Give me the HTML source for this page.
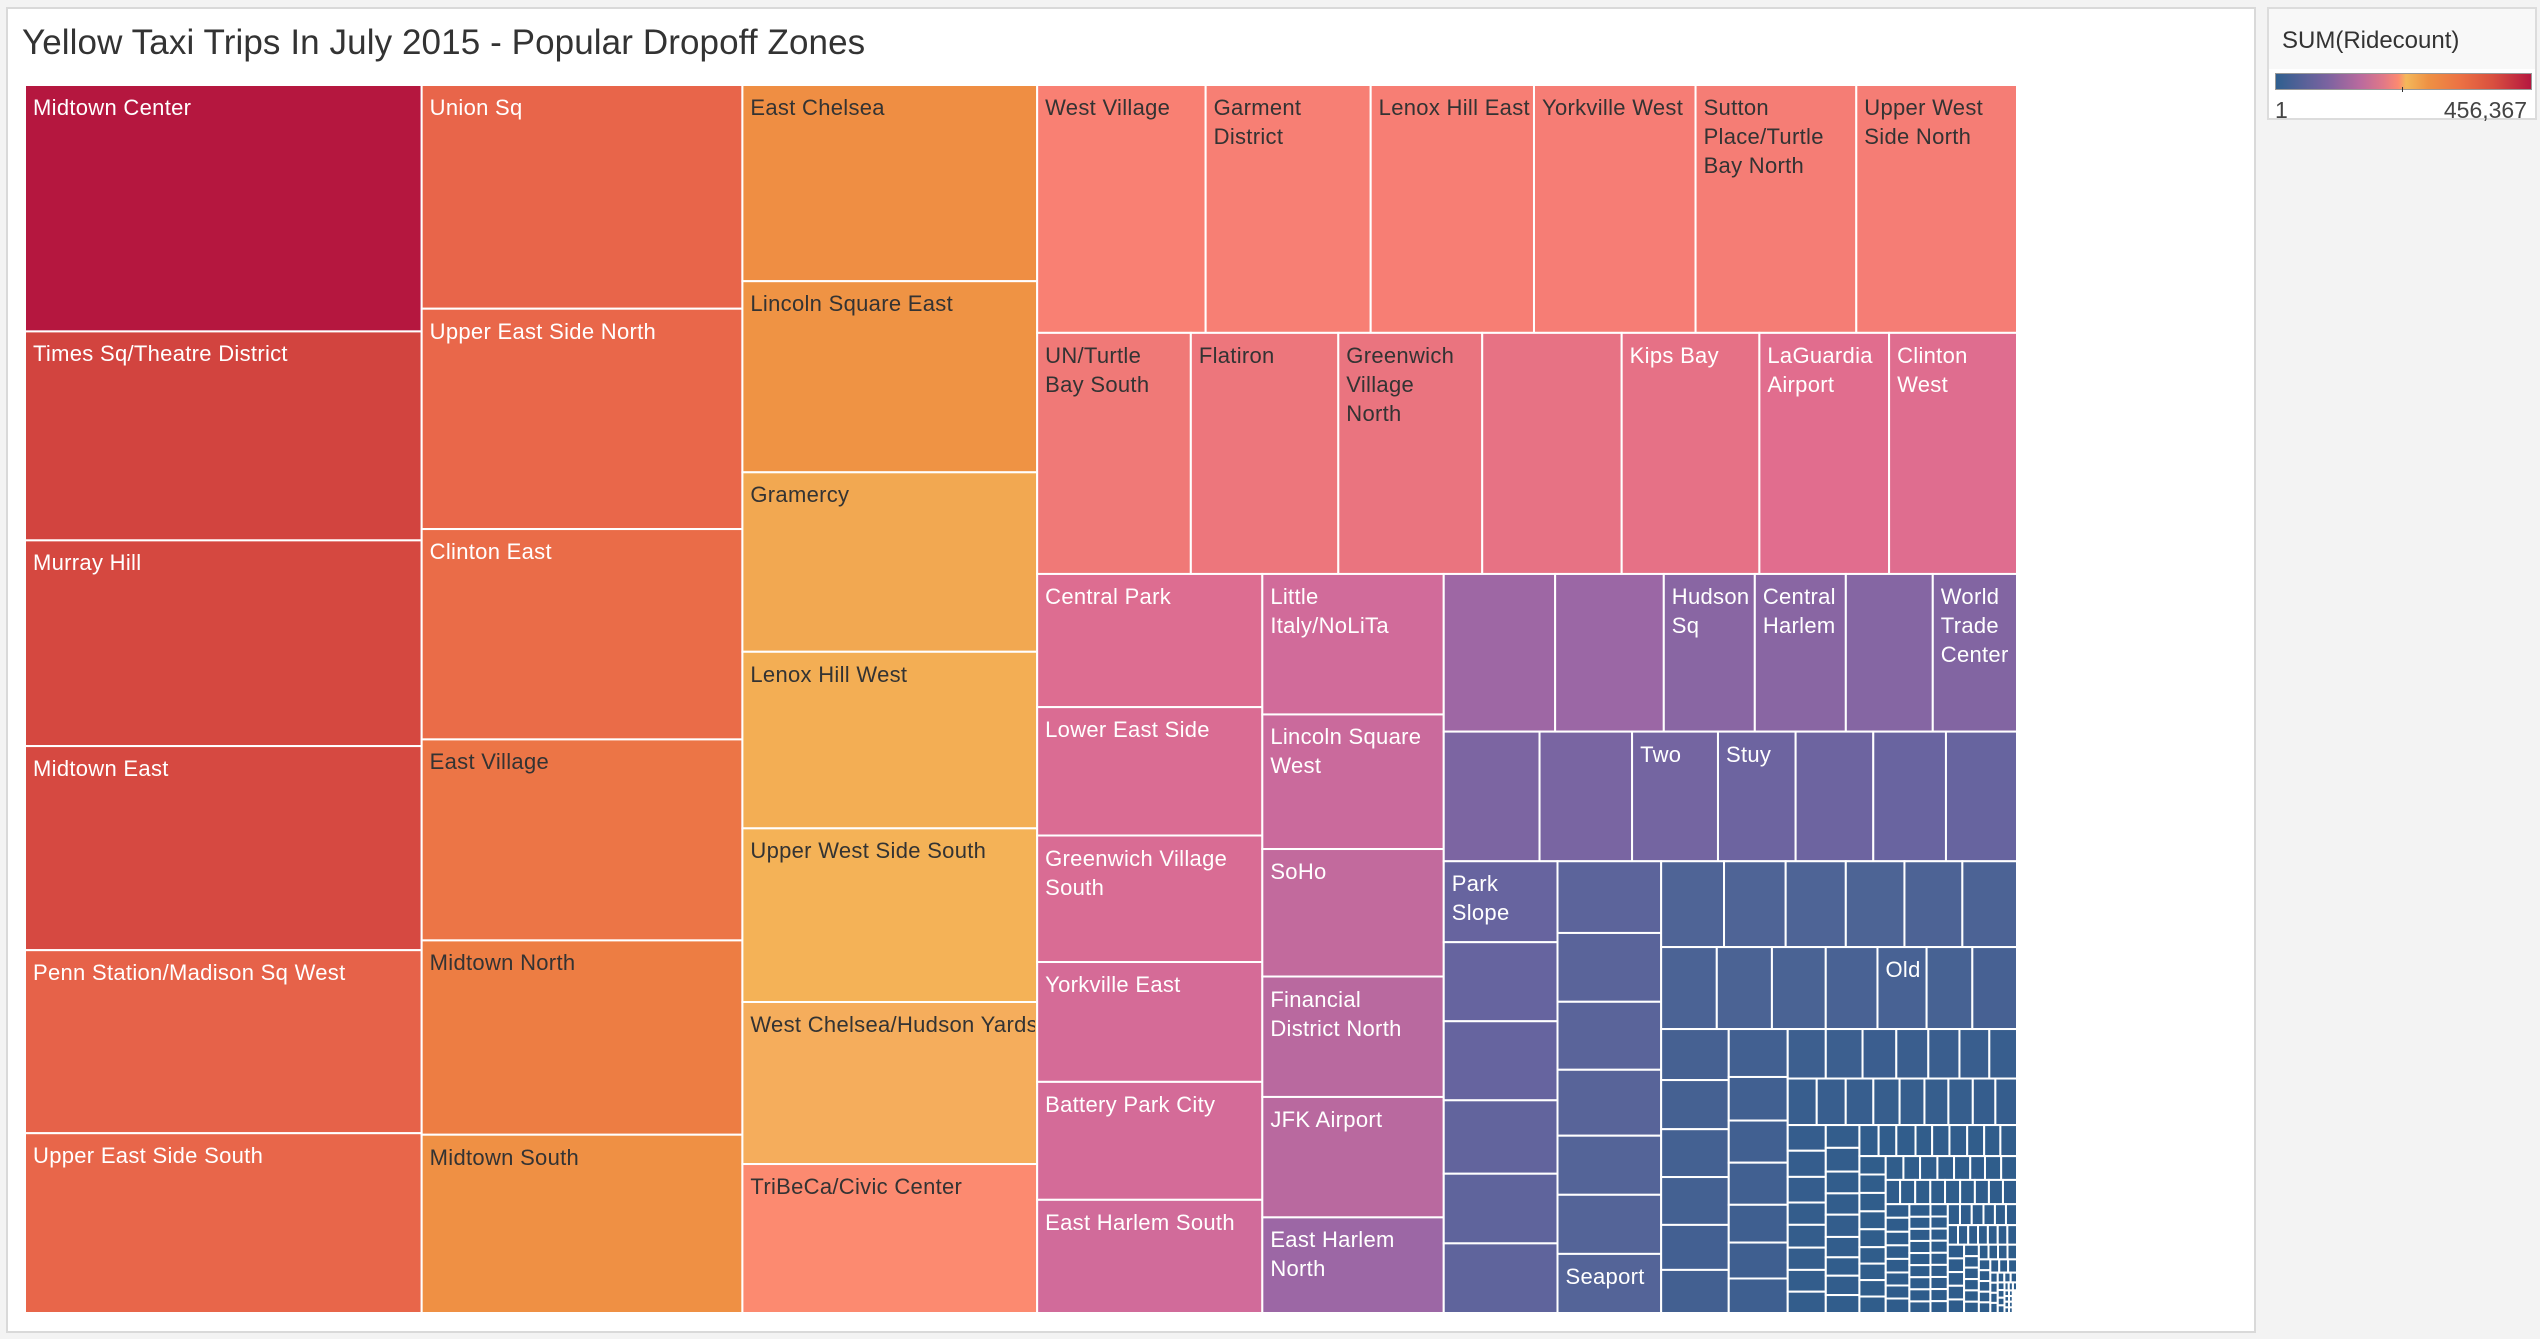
<!DOCTYPE html>
<html><head><meta charset="utf-8">
<style>
html,body{margin:0;padding:0;width:2540px;height:1339px;background:#f3f3f3;overflow:hidden;font-family:"Liberation Sans",sans-serif}
#panel{position:absolute;left:6px;top:7px;width:2246px;height:1322px;background:#fff;border:2px solid #d9d9d9}
#title{position:absolute;left:22px;top:23px;font-size:35px;color:#333;white-space:nowrap;letter-spacing:0.1px}
#chart{position:absolute;left:0;top:0}
.lbl{position:absolute;font-size:22px;letter-spacing:0.3px;line-height:29px;overflow:hidden;white-space:pre}
#legend{position:absolute;left:2267px;top:7px;width:270px;height:113px;background:#fff;border:2px solid #dcdcdc;box-sizing:border-box}
#legend-head{position:absolute;left:0;top:0;width:100%;height:60px;background:#f8f8f8}
#legend-title{position:absolute;left:13px;top:18px;font-size:24px;color:#333}
#legend-bar{position:absolute;left:6px;top:64px;width:255px;height:15px;border:1px solid #999;background:linear-gradient(to right,#2f5f8f 0%,#7a63a0 20%,#b96a9e 33%,#e07888 42%,#fc8a70 48%,#f4b85a 51%,#ee9044 60%,#ec7244 72%,#d9503f 85%,#b5173f 100%)}
#legend-tick{position:absolute;left:133px;top:78px;width:1px;height:5px;background:#333}
.legv{position:absolute;top:88px;font-size:23px;color:#444}
</style></head><body>
<div id="panel"></div>
<div id="title">Yellow Taxi Trips In July 2015 - Popular Dropoff Zones</div>
<svg id="chart" width="2540" height="1339"></svg>
<div id="labels"></div>
<div id="legend">
  <div id="legend-head"></div>
  <div id="legend-title">SUM(Ridecount)</div>
  <div id="legend-bar"></div>
  <div id="legend-tick"></div>
  <div class="legv" style="left:6px">1</div>
  <div class="legv" style="right:8px">456,367</div>
</div>
<script>
// ride counts (thousands) per strip, in layout order
const col1Names = ["Midtown Center","Times Sq/Theatre District","Murray Hill","Midtown East","Penn Station/Madison Sq West","Upper East Side South"];
const col1Vals = [456.367,387,381,378,339,333];
const col2Names = ["Union Sq","Upper East Side North","Clinton East","East Village","Midtown North","Midtown South"];
const col2Vals = [335,330,315,301,291,267];
const col3Names = ["East Chelsea","Lincoln Square East","Gramercy","Lenox Hill West","Upper West Side South","West Chelsea/Hudson Yards","TriBeCa/Civic Center"];
const col3Vals = [270,263,247,243,239,223,205];
const rowANames = ["West Village","Garment\nDistrict","Lenox Hill East","Yorkville West","Sutton\nPlace/Turtle\nBay North","Upper West\nSide North"];
const rowAVals = [195,191,189,187,186,186];
const rowBNames = ["UN/Turtle\nBay South","Flatiron","Greenwich\nVillage\nNorth","","Kips Bay","LaGuardia\nAirport","Clinton\nWest"];
const rowBVals = [173,166,162,157,155,146,144];
const colC1Names = ["Central Park","Lower East Side","Greenwich Village\nSouth","Yorkville East","Battery Park City","East Harlem South"];
const colC1Vals = [140,135,133,126,124,119];
const colC2Names = ["Little\nItaly/NoLiTa","Lincoln Square\nWest","SoHo","Financial\nDistrict North","JFK Airport","East Harlem\nNorth"];
const colC2Vals = [119,114,108,102,102,81];
const rowD1Names = ["","","Hudson\nSq","Central\nHarlem","","World\nTrade\nCenter"];
const rowD1Vals = [82,80,67,67,64,62];
const rowD2Names = ["","","Two","Stuy","","",""];
const rowD2Vals = [58,56,52,47,47,44,43];
const colE1Names = ["Park\nSlope","","","","",""];
const colE1Vals = [43,42,42,39,37,37];
const colE2Names = ["","","","","","","Seaport"];
const colE2Vals = [34.7,33.3,32.9,31.9,28.6,28.6,28.6];
const rowF1Vals = [25.2,24.7,24.1,23.5,23.2,21.9];
const rowF2Names = ["","","","","Old","",""];
const rowF2Vals = [21.3,21.1,20.6,19.8,18.8,17.5,17.1];
const colG1Vals = [16.1,15.5,15.1,15.1,14.2,13.6];
const colG2Vals = [13.2,12.0,11.6,11.6,10.4,9.9,9.5];
const rowH1Vals = [8.8,8.5,7.8,7.4,7.2,6.9,6.4];
const rowH2Vals = [6.3,6.3,6.0,5.7,5.4,5.2,5.3,4.9,4.7];
const colI1Vals = [4.56,4.65,4.56,3.96,4.05,3.96,3.87,3.79];
const colI2Vals = [3.58,3.73,3.42,3.35,3.50,3.20,2.89,3.04,2.82];
const rowJ1Vals = [2.78,2.57,2.78,2.41,2.51,2.57,2.46,2.35,2.41];
const colK1Vals = [2.26,2.26,2.26,2.20,2.20,2.02,2.02,2.02,2.02];
const rowL1Vals = [1.97,1.85,1.93,1.85,1.80,1.64,1.80,1.76];
const rowL2Vals = [1.63,1.71,1.71,1.67,1.71,1.67,1.59,1.59,1.59];
const colM1Vals = [1.50,1.55,1.50,1.50,1.50,1.44,1.44,1.60];
const colN1Vals = [1.24,1.19,1.19,1.19,1.19,1.19,1.19,1.19,1.14];
const colN2Vals = [1.0,0.98,0.98,0.98,0.98,0.98,0.98,0.98,0.96];
const rowO1Vals = [1.19,1.15,1.15,1.12,1.08,1.08];
const rowO2Vals = [0.93,0.93,0.9,0.9,0.9,0.88,0.88];
const colP1Vals = [1.04,1.04,1.04,1.04,1.03];
const colP2Vals = [0.79,0.79,0.79,0.78,0.78,0.78];
const rowQ1Vals = [0.66,0.65,0.65,0.65];
const colR1Vals = [0.58,0.58,0.57,0.57,0.57];
const rowS1Vals = [0.55,0.55,0.55];
const colT1Vals = [0.35,0.35,0.35,0.35];
const rowU1Vals = [0.3,0.29,0.29];
const colV1Vals = [0.24,0.24,0.24,0.24];
const rowW1Vals = [0.16,0.156,0.152];
const colX1Vals = [0.12,0.12,0.12,0.12];
const colY1Vals = [0.1,0.1,0.1,0.1];
const rowZ1Vals = [0.09,0.088,0.087,0.087,0.086,0.001];

const strips = [
 ["col",col1Vals,col1Names],["col",col2Vals,col2Names],["col",col3Vals,col3Names],
 ["row",rowAVals,rowANames],["row",rowBVals,rowBNames],
 ["col",colC1Vals,colC1Names],["col",colC2Vals,colC2Names],
 ["row",rowD1Vals,rowD1Names],["row",rowD2Vals,rowD2Names],
 ["col",colE1Vals,colE1Names],["col",colE2Vals,colE2Names],
 ["row",rowF1Vals,null],["row",rowF2Vals,rowF2Names],
 ["col",colG1Vals,null],["col",colG2Vals,null],
 ["row",rowH1Vals,null],["row",rowH2Vals,null],
 ["col",colI1Vals,null],["col",colI2Vals,null],
 ["row",rowJ1Vals,null],["col",colK1Vals,null],
 ["row",rowL1Vals,null],["row",rowL2Vals,null],
 ["col",colM1Vals,null],["col",colN1Vals,null],["col",colN2Vals,null],
 ["row",rowO1Vals,null],["row",rowO2Vals,null],
 ["col",colP1Vals,null],["col",colP2Vals,null],["row",rowQ1Vals,null],
 ["col",colR1Vals,null],["row",rowS1Vals,null],["col",colT1Vals,null],
 ["row",rowU1Vals,null],["col",colV1Vals,null],["row",rowW1Vals,null],
 ["col",colX1Vals,null],["col",colY1Vals,null],["row",rowZ1Vals,null]
];

const stops=[[0,"#2c5c8a"],[10,"#3f5f90"],[25,"#4f6496"],[45,"#6a64a0"],[80,"#9b67a5"],[120,"#d26b9a"],[145,"#e06d8f"],[170,"#ef7878"],[195,"#f98073"],[206,"#fc8b70"],[222,"#f5ad5c"],[240,"#f4b257"],[262,"#ef9444"],[285,"#ee8242"],[310,"#eb6e48"],[335,"#e8654a"],[385,"#d3453f"],[456.4,"#b5173f"]];
function hex(c){return [1,3,5].map(i=>parseInt(c.substr(i,2),16));}
function colorFor(v){
  for(let i=1;i<stops.length;i++){ if(v<=stops[i][0]){
    const a=stops[i-1],b=stops[i],t=(v-a[0])/(b[0]-a[0]);
    const ca=hex(a[1]),cb=hex(b[1]);
    return "rgb("+ca.map((x,j)=>Math.round(x+(cb[j]-x)*t)).join(",")+")";}}
  return stops[stops.length-1][1];
}
const X0=25,Y0=85,X1=2017,Y1=1313;
const svg=document.getElementById("chart");
const labels=document.getElementById("labels");
const NS="http://www.w3.org/2000/svg";
let rect={x:X0,y:Y0,w:X1-X0,h:Y1-Y0};
let remaining=strips.reduce((s,st)=>s+st[1].reduce((a,b)=>a+b,0),0);
strips.forEach((st,si)=>{
  const [dir,vals,names]=st;
  const sum=vals.reduce((a,b)=>a+b,0);
  const frac=sum/remaining;
  let off=0;
  if(dir==="col"){
    const w=rect.w*frac;
    vals.forEach((v,i)=>{const h=rect.h*v/sum;draw(rect.x,rect.y+off,w,h,v,names?names[i]:"");off+=h;});
    rect={x:rect.x+w,y:rect.y,w:rect.w-w,h:rect.h};
  } else {
    const h=rect.h*frac;
    vals.forEach((v,i)=>{const w=rect.w*v/sum;draw(rect.x+off,rect.y,w,h,v,names?names[i]:"");off+=w;});
    rect={x:rect.x,y:rect.y+h,w:rect.w,h:rect.h-h};
  }
  remaining-=sum;
});
function draw(x,y,w,h,v,name){
  const r=document.createElementNS(NS,"rect");
  r.setAttribute("x",x);r.setAttribute("y",y);r.setAttribute("width",w);r.setAttribute("height",h);
  r.setAttribute("fill",colorFor(v));r.setAttribute("stroke","#fff");r.setAttribute("stroke-width","2");
  
  
  svg.appendChild(r);
  if(name){
    const d=document.createElement("div");
    d.className="lbl";
    d.style.left=(x+8)+"px";d.style.top=(y+8)+"px";d.style.width=(w-10)+"px";d.style.maxHeight=(h-10)+"px";
    d.style.color=(v>158&&v<310)?"#333":"#fff";
    d.textContent=name;
    
    
    labels.appendChild(d);
  }
}
</script>
</body></html>
